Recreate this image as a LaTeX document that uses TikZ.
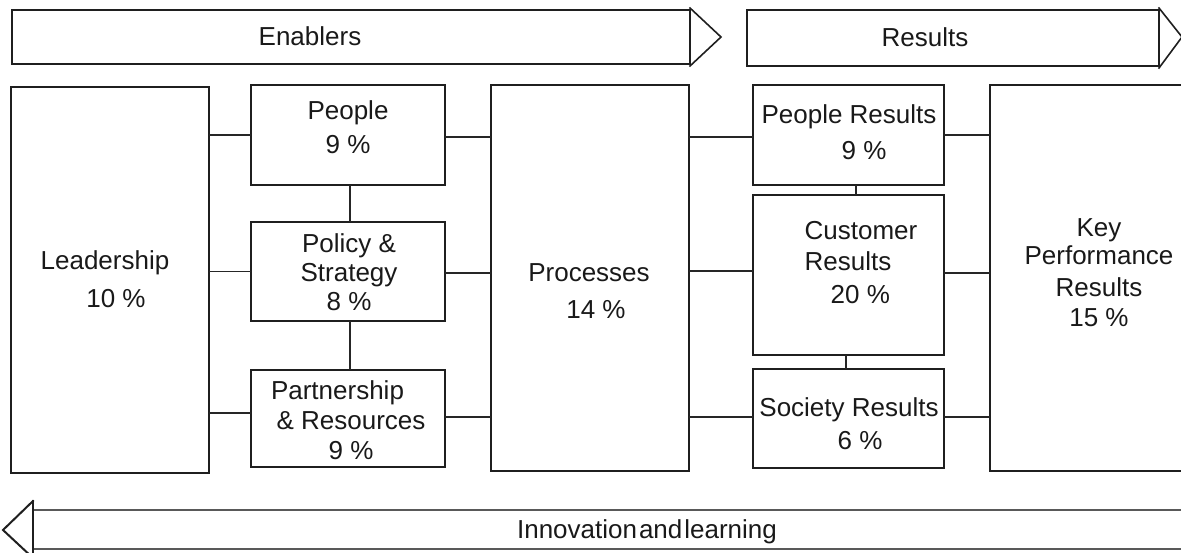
\documentclass[tikz,border=0pt]{standalone}
\usepackage{fontspec}
\setmainfont{Liberation Sans}
\begin{document}
\begin{tikzpicture}[x=1pt,y=-1pt,
  line cap=rect,
  box/.style={draw=black!88, line width=1.6pt, inner sep=0pt, anchor=north west},
  txt/.style={inner sep=0pt, align=center, text=black!90, font=\fontsize{26}{30}\selectfont},
  conn/.style={draw=black!85, line width=1.4pt},
  band/.style={draw=black!88, line width=1.6pt, line join=miter},
  lowband/.style={draw=black!65, line width=2pt, line join=miter}]
\clip (0,0) rectangle (1181,552);
% top bands
\draw[band] (12,10) rectangle (690,64);
\draw[band] (690,8) -- (721,37) -- (690,66);
\draw[band] (747,10) rectangle (1159,66);
\draw[band] (1159,8) -- (1182,37) -- (1159,68);
\node[txt] (enab) at (310,36.5) {Enablers};
\node[txt] (res) at (925,37) {Results};
% bottom band
\draw[lowband] (33,510) -- (1195,510);
\draw[lowband] (33,549) -- (1195,549);
\draw[band, line width=2pt] (33,501) -- (3,530) -- (33,558);
\draw[band, line width=2.6pt] (33,501) -- (33,556);
\node[txt] (innov) at (647,531.5) {Innovation\hspace{2pt}and\hspace{2pt}learning};
% boxes
\node[box, minimum width=198pt, minimum height=386pt] (lead) at (10,86) {};
\node[box, minimum width=194pt, minimum height=100pt] (peop) at (250,84) {};
\node[box, minimum width=194pt, minimum height=99pt] (pol) at (250,221) {};
\node[box, minimum width=194pt, minimum height=97pt] (part) at (250,369) {};
\node[box, minimum width=198pt, minimum height=386pt] (proc) at (490,84) {};
\node[box, minimum width=191pt, minimum height=100pt] (pr) at (752,84) {};
\node[box, minimum width=191pt, minimum height=160pt] (cust) at (752,194) {};
\node[box, minimum width=191pt, minimum height=99pt] (soc) at (752,368) {};
\node[box, minimum width=260pt, minimum height=386pt] (kpr) at (989,84) {};
% texts
\node[txt] (leadT) at (105,279.5) {Leadership\\[8pt]\hspace*{22pt}10 \%};
\node[txt] (peopT) at (348,127.5) {People\\[4pt]9 \%};
\node[txt] (polT) at (349,272.5) {Policy \&\\[-1pt]Strategy\\[-1pt]8 \%};
\node[txt] (partT) at (351,420) {Partnership\hspace*{27pt}\\\& Resources\\9 \%};
\node[txt] (procT) at (589,291) {Processes\\[7pt]\hspace*{14pt}14 \%};
\node[txt] (prT) at (849,132.5) {People Results\\[6pt]\hspace*{30pt}9 \%};
\node[txt, align=left] (custT) at (861,262.5) {Customer\\[1pt]Results\\[3pt]\hspace*{26pt}20 \%};
\node[txt] (socT) at (849,424) {Society Results\\[3pt]\hspace*{22pt}6 \%};
\node[txt] (kprT) at (1099,272.5) {Key\\[-2pt]Performance\\[2pt]Results\\[0pt]15 \%};
% connectors
\draw[conn] (peop.west) -- (peop.west -| lead.east);
\draw[conn] (pol.west) -- (pol.west -| lead.east);
\coordinate (c1) at ([yshift=5.5pt]part.west);
\draw[conn] (c1) -- (c1 -| lead.east);
\coordinate (c2) at ([yshift=-2pt]peop.east);
\draw[conn] (c2) -- (c2 -| proc.west);
\coordinate (c3) at ([yshift=-1.5pt]pol.east);
\draw[conn] (c3) -- (c3 -| proc.west);
\coordinate (c4) at ([yshift=1.5pt]part.east);
\draw[conn] (c4) -- (c4 -| proc.west);
\coordinate (c5) at ([yshift=-2pt]pr.west);
\draw[conn] (c5) -- (c5 -| proc.east);
\coordinate (c6) at ([yshift=4pt]cust.west);
\draw[conn] (c6) -- (c6 -| proc.east);
\coordinate (c7) at ([yshift=1.5pt]soc.west);
\draw[conn] (c7) -- (c7 -| proc.east);
\draw[conn] (pr.east) -- (pr.east -| kpr.west);
\coordinate (c8) at ([yshift=2pt]cust.east);
\draw[conn] (c8) -- (c8 -| kpr.west);
\coordinate (c9) at ([yshift=1.5pt]soc.east);
\draw[conn] (c9) -- (c9 -| kpr.west);
\coordinate (v1) at ([xshift=2pt]peop.south);
\draw[conn] (v1) -- (v1 |- pol.north);
\coordinate (v2) at ([xshift=2pt]pol.south);
\draw[conn] (v2) -- (v2 |- part.north);
\coordinate (v3) at ([xshift=7.5pt]pr.south);
\draw[conn] (v3) -- (v3 |- cust.north);
\coordinate (v4) at ([xshift=-2.5pt]cust.south);
\draw[conn] (v4) -- (v4 |- soc.north);
\end{tikzpicture}
\end{document}
